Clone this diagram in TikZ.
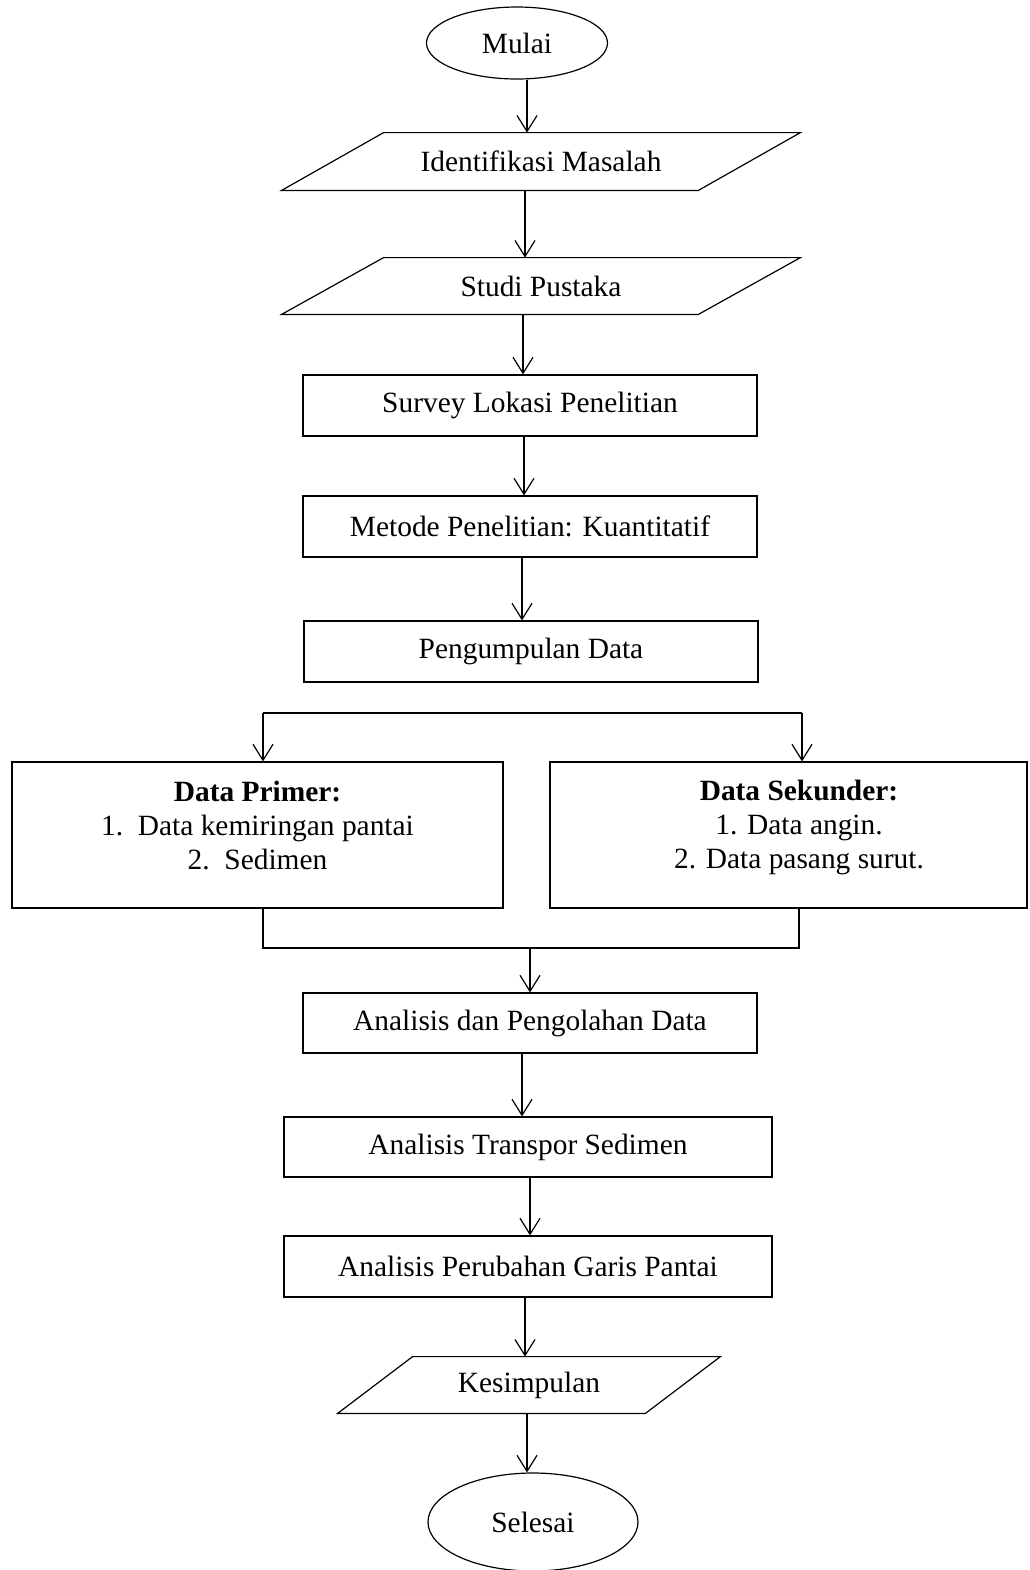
\documentclass[tikz,border=0pt]{standalone}
\usepackage{fontspec}
\setmainfont{Liberation Serif}
\usetikzlibrary{shapes.geometric,arrows.meta,calc}
\tikzset{
  every node/.style={font=\fontsize{14.7}{17}\selectfont, inner sep=0pt},
  proc/.style={draw, line width=0.6pt, rectangle, minimum width=#1},
  proc/.default=227pt,
  term/.style={draw, line width=0.6pt, ellipse},
  paranode/.style={rectangle, minimum width=#1},
  arr/.style={line width=0.6pt, -{Straight Barb[length=8pt,width=10pt]}},
  conn/.style={line width=0.6pt},
}
\newcommand\paradraw[2]{%
  \draw[line width=0.6pt] ([xshift=-#2]#1.south west) -- ([xshift=#2]#1.north west)
    -- ([xshift=#2]#1.north east) -- ([xshift=-#2]#1.south east) -- cycle;}
\begin{document}
\begin{tikzpicture}[x=0.5pt,y=-0.5pt]
\useasboundingbox (0,0) rectangle (1029,1570);
% nodes
\node[term, minimum width=90.5pt, minimum height=36pt] (mulai) at (517,43) {Mulai};
\node[paranode=208pt, minimum height=28.5pt] (iden) at (541,161.5) {Identifikasi Masalah};
\paradraw{iden}{25.5pt}
\node[paranode=208pt, minimum height=28pt] (studi) at (541,286) {Studi Pustaka};
\paradraw{studi}{25.5pt}
\node[proc, minimum height=30.5pt] (survey) at (530,405.5) {Survey Lokasi Penelitian};
\node[proc, minimum height=30.5pt] (metode) at (530,526.5) {Metode Penelitian: Kuantitatif};
\node[proc, minimum height=30.5pt] (kumpul) at (531,651.5) {Pengumpulan Data};
\node[proc=245.5pt, minimum height=73pt] (primer) at (257.5,835) {};
\node[align=center] (primert) at (257.5,825)
  {\textbf{Data Primer:}\\1.\ \ Data kemiringan pantai\\2.\ \ Sedimen};
\node[proc=238.5pt, minimum height=73pt] (sekunder) at (788.5,835) {};
\node[align=center] (sekundert) at (799,827)
  {\textbf{Data Sekunder:}\\1. Data angin.\\2. Data pasang surut.};
\node[proc, minimum height=30pt] (analisis) at (530,1023) {Analisis dan Pengolahan Data};
\node[proc=244pt, minimum height=30pt] (transpor) at (528,1147) {Analisis Transpor Sedimen};
\node[proc=244pt, minimum height=30.5pt] (perubahan) at (528,1266.5) {Analisis Perubahan Garis Pantai};
\node[paranode=153.5pt, minimum height=28pt] (kesimpulan) at (529,1385) {Kesimpulan};
\paradraw{kesimpulan}{18.75pt}
\node[term, minimum width=105pt, minimum height=49pt] (selesai) at (533,1522) {Selesai};
% coordinates
\coordinate (splitl) at (263,713);
\coordinate (splitr) at (802,713);
\coordinate (mergel) at (263,948);
\coordinate (merger) at (799,948);
\coordinate (mergec) at (530,948);
% connectors
\draw[arr] ([xshift=5pt]mulai.south) -- ([xshift=5pt]mulai.south |- iden.north);
\draw[arr] ([xshift=-8pt]iden.south) -- ([xshift=-8pt]iden.south |- studi.north);
\draw[arr] ([xshift=-9pt]studi.south) -- ([xshift=-9pt]studi.south |- survey.north);
\draw[arr] ([xshift=-3pt]survey.south) -- ([xshift=-3pt]survey.south |- metode.north);
\draw[arr] ([xshift=-4pt]metode.south) -- ([xshift=-4pt]metode.south |- kumpul.north);
\draw[conn] (splitl) -- (splitr);
\draw[arr] (splitl) -- (splitl |- primer.north);
\draw[arr] (splitr) -- (splitr |- sekunder.north);
\draw[conn] (mergel |- primer.south) -- (mergel) -- (merger) -- (merger |- sekunder.south);
\draw[arr] (mergec) -- (mergec |- analisis.north);
\draw[arr] ([xshift=-4pt]analisis.south) -- ([xshift=-4pt]analisis.south |- transpor.north);
\draw[arr] ([xshift=1pt]transpor.south) -- ([xshift=1pt]transpor.south |- perubahan.north);
\draw[arr] ([xshift=-1.5pt]perubahan.south) -- ([xshift=-1.5pt]perubahan.south |- kesimpulan.north);
\draw[arr] ([xshift=-1pt]kesimpulan.south) -- ([xshift=-1pt]kesimpulan.south |- selesai.north);
\end{tikzpicture}
\end{document}
